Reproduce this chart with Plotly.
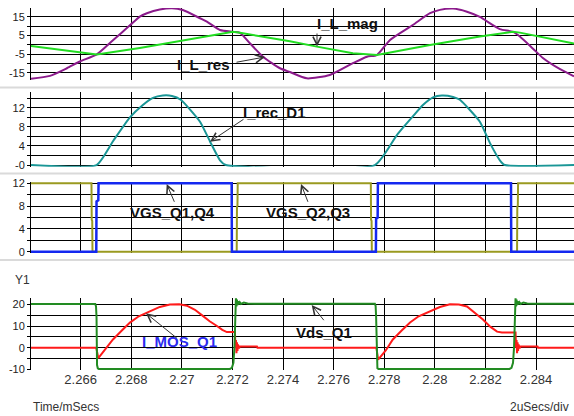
import plotly.graph_objects as go

# ---------------- waveform samples (time in microseconds) ----------------
# Panel 1: resonant and magnetizing inductor currents
t_res = [2264.04, 2264.79, 2265.46, 2265.97, 2266.64, 2267.28, 2267.95, 2268.34, 2268.62, 2269.13,
         2269.61, 2270.04, 2270.72, 2270.99, 2271.51, 2272.02, 2272.30, 2272.69, 2273.21, 2273.88,
         2274.27, 2274.94, 2275.85, 2276.76, 2277.32, 2277.71, 2278.23, 2279.13, 2279.81, 2280.20,
         2280.72, 2281.27, 2281.78, 2282.57, 2283.09, 2283.36, 2283.88, 2284.27, 2284.95, 2285.50]
i_l_res = [-18.2, -16.6, -12.5, -8.9, -5.1, 2.5, 10.5, 15.2, 17.0, 19.0,
           19.7, 18.7, 14.3, 12.5, 8.0, 7.0, 6.5, 0.9, -6.3, -12.5,
           -14.5, -17.9, -16.1, -9.8, -6.3, -5.4, 2.7, 10.7, 17.0, 18.8,
           19.5, 17.8, 15.0, 8.5, 7.0, 4.5, -2.0, -7.0, -13.0, -16.8]

t_mag = [2264.04, 2266.64, 2268.34, 2269.92, 2271.51, 2272.02, 2272.30, 2274.27, 2275.34, 2276.76,
         2277.71, 2279.81, 2281.78, 2283.09, 2283.36, 2285.50]
i_l_mag = [-0.5, -5.1, -1.6, 2.0, 6.0, 7.0, 6.5, 2.0, -0.9, -4.5,
           -5.4, 0.0, 4.5, 7.0, 6.6, 0.8]

# Panel 2: rectifier diode current
t_rec = [2264.04, 2266.63, 2267.28, 2267.95, 2268.46, 2268.86, 2269.25, 2269.61, 2269.96, 2270.72,
         2271.11, 2271.51, 2271.74, 2277.63, 2278.50, 2279.13, 2279.53, 2279.93, 2280.28, 2280.72,
         2280.99, 2281.78, 2282.18, 2282.57, 2282.77, 2285.50]
i_rec_d1 = [0, 0, 5.0, 10.0, 12.6, 14.1, 14.6, 14.5, 13.7, 9.1,
            5.0, 1.0, 0, 0, 6.3, 10.2, 12.6, 14.2, 14.6, 14.3,
            13.7, 9.1, 4.6, 1.0, 0, 0]

# Panel 3: gate drives
t_q14 = [2264.04, 2266.62, 2266.63, 2266.70, 2266.71, 2271.97, 2271.98, 2277.67, 2277.68, 2277.74,
         2277.75, 2283.01, 2283.02, 2285.50]
vgs_q14 = [0, 0, 8.8, 9.0, 12, 12, 0, 0, 5.8, 6.0,
           12, 12, 0, 0]

t_q23 = [2264.04, 2266.43, 2266.44, 2266.46, 2266.47, 2272.17, 2272.18, 2272.20, 2272.21, 2277.47,
         2277.48, 2277.50, 2277.51, 2283.25, 2283.26, 2283.28, 2283.29, 2285.50]
vgs_q23 = [12, 12, 5.6, 5.4, 0, 0, 7.9, 8.1, 12, 12,
           5.6, 5.4, 0, 0, 7.9, 8.1, 12, 12]

# Panel 4: MOSFET current and drain-source voltage
t_mos = [2264.04, 2266.62, 2266.70, 2267.00, 2267.28, 2267.62, 2267.95, 2268.30, 2268.62, 2269.13,
         2269.53, 2269.90, 2270.20, 2270.52, 2270.83, 2271.10, 2271.39, 2271.60, 2271.78, 2272.10,
         2272.12, 2272.14, 2272.16, 2272.18, 2272.20, 2272.22, 2272.26, 2272.30, 2272.97, 2272.99,
         2277.69, 2277.76, 2278.06, 2278.34, 2278.68, 2279.02, 2279.36, 2279.69, 2280.20, 2280.60,
         2280.95, 2281.27, 2281.60, 2281.90, 2282.20, 2282.46, 2282.65, 2283.19, 2283.21, 2283.23,
         2283.25, 2283.27, 2283.29, 2283.31, 2283.35, 2283.39, 2284.06, 2284.08, 2285.50]
i_mos_q1 = [0, 0, -4.8, -0.6, 3.8, 7.8, 11.6, 14.5, 16.3, 18.8,
            19.9, 20.0, 19.4, 17.5, 14.7, 12.2, 10.0, 8.2, 7.2, 7.2,
            0.0, 3.5, -2.6, 2.5, -1.5, 1.5, -0.3, 0.6, 0.5, 0.0,
            0.0, -5.5, -1.3, 3.8, 7.8, 11.6, 14.5, 16.3, 18.8, 20.0,
            19.9, 19.0, 16.0, 13.0, 9.6, 7.4, 7.0, 7.0, 0.0, 3.5,
            -2.6, 2.5, -1.5, 1.5, -0.3, 0.6, 0.5, 0.0, 0.0]

t_vds = [2264.04, 2266.58, 2266.61, 2266.63, 2266.65, 2266.68, 2266.72, 2271.90, 2271.98, 2272.04,
         2272.08, 2272.12, 2272.14, 2272.16, 2272.18, 2272.20, 2272.22, 2272.25, 2272.29, 2272.34,
         2272.45, 2272.60, 2272.89, 2277.63, 2277.66, 2277.68, 2277.70, 2277.73, 2277.77, 2282.95,
         2283.03, 2283.09, 2283.13, 2283.17, 2283.19, 2283.21, 2283.23, 2283.25, 2283.27, 2283.30,
         2283.34, 2283.39, 2283.50, 2283.65, 2283.94, 2285.50]
vds_q1 = [20.2, 20.2, 19.0, 14.0, -8.0, -9.5, -9.8, -9.8, -9.3, -7.0,
          0.0, 18.0, 23.3, 19.0, 22.2, 19.6, 21.5, 20.0, 21.0, 20.2,
          20.8, 20.4, 20.3, 20.3, 19.3, 14.0, -8.0, -9.5, -9.8, -9.8,
          -9.3, -7.0, 0.0, 18.0, 23.0, 19.0, 22.2, 19.6, 21.5, 20.0,
          21.0, 20.2, 20.8, 20.4, 20.3, 20.3]

# Axis ticks
x_tick_vals = [2.266, 2.268, 2.270, 2.272, 2.274, 2.276, 2.278, 2.280, 2.282, 2.284]
x_tick_text = ["2.266", "2.268", "2.27", "2.272", "2.274", "2.276", "2.278", "2.28", "2.282", "2.284"]

y1_vals = [-15, -10, -5, 0, 5, 10, 15]
y1_text = ["-15", "", "-5", "", "5", "", "15"]
y2_vals = [0, 2, 4, 6, 8, 10, 12, 14]
y2_text = ["-0", "", "4", "", "8", "", "12", ""]
y3_vals = [0, 2, 4, 6, 8, 10, 12]
y3_text = ["0", "", "4", "", "8", "", "12"]
y4_vals = [-10, -5, 0, 5, 10, 15, 20]
y4_text = ["-10", "", "0", "", "10", "", "20"]

# ---------------- page geometry helpers ----------------
W, H = 574, 416
LEFT = 31
FONT = "Liberation Sans, Arial, sans-serif"


def px(x):
    return (x - LEFT) / (W - LEFT)


def py(y):
    return 1 - y / H


def ms(us_list):
    return [u / 1000.0 for u in us_list]


fig = go.Figure()

def add(t, v, color, axis, width=2, shape="linear", smoothing=None):
    line = dict(color=color, width=width, shape=shape)
    if smoothing is not None:
        line["smoothing"] = smoothing
    fig.add_trace(go.Scatter(x=ms(t), y=v, mode="lines", line=line,
                             xaxis="x" + axis, yaxis="y" + axis,
                             hoverinfo="skip", showlegend=False))

add(t_res, i_l_res, "#8b1a8b", "", shape="spline", smoothing=0.6)
add(t_mag, i_l_mag, "#22dd22", "")
add(t_rec, i_rec_d1, "#1a9696", "2", shape="spline", smoothing=0.5)
add(t_q23, vgs_q23, "#9a9a20", "3")
add(t_q14, vgs_q14, "#1428f0", "3", width=2.5)
add(t_mos, i_mos_q1, "#ff1a1a", "4")
add(t_vds, vds_q1, "#228b22", "4")

# ---------------- axes ----------------
x_range = [2.26404, 2.2855]
panels = [  # (pixel top, pixel bottom, y range, tick vals, tick text)
    (8, 80, [-18.8, 19.8], y1_vals, y1_text),
    (91.7, 166.7, [-0.35, 15.4], y2_vals, y2_text),
    (181.7, 253.3, [-0.28, 12.28], y3_vals, y3_text),
    (298.3, 370, [-10.3, 22.8], y4_vals, y4_text),
]

layout = dict(
    width=W, height=H,
    margin=dict(l=LEFT, r=0, t=0, b=0, pad=0),
    paper_bgcolor="white", plot_bgcolor="white",
    showlegend=False,
    font=dict(family=FONT, color="#222"),
)

for i, (top, bot, yr, tv, tt) in enumerate(panels):
    n = "" if i == 0 else str(i + 1)
    last = i == len(panels) - 1
    layout["xaxis" + n] = dict(
        domain=[0, 1], range=x_range, anchor="y" + n,
        tickmode="array", tickvals=x_tick_vals, ticktext=x_tick_text,
        showticklabels=last, ticks="",
        tickfont=dict(size=13, color="#333", family=FONT),
        showgrid=True, gridcolor="#000000", gridwidth=1,
        zeroline=False, showline=False, automargin=False, fixedrange=True,
    )
    layout["yaxis" + n] = dict(
        domain=[py(bot), py(top)], range=yr, anchor="x" + n,
        tickmode="array", tickvals=tv, ticktext=tt,
        ticks="outside", ticklen=3, tickcolor="#000", tickwidth=1,
        tickfont=dict(size=11, color="#222", family=FONT),
        showgrid=True, gridcolor="#000000", gridwidth=1,
        zeroline=False, showline=True, linecolor="#000", linewidth=1,
        automargin=False, fixedrange=True,
    )

fig.update_layout(**layout)

# Light separators between the panels
for y in (87.5, 173.5, 260):
    fig.add_shape(type="line", xref="paper", yref="paper",
                  x0=px(0), x1=1, y0=py(y), y1=py(y),
                  line=dict(color="#dadada", width=2), layer="below")

# Trace labels
labels = [
    ("I_L_mag", 347.5, 23.5, "#111"),
    ("I_L_res", 203, 64, "#111"),
    ("I_rec_D1", 274, 112.5, "#111"),
    ("VGS_Q1,Q4", 172, 212.5, "#111"),
    ("VGS_Q2,Q3", 307.5, 212.5, "#111"),
    ("I_MOS_Q1", 179, 341, "#2b2bf0"),
    ("Vds_Q1", 324, 332.5, "#111"),
]
for text, x, y, c in labels:
    fig.add_annotation(text="<b>%s</b>" % text, x=px(x), y=py(y), xref="paper", yref="paper",
                       xanchor="center", yanchor="middle", showarrow=False,
                       font=dict(size=15, color=c, family=FONT))

# Pointer arrows: (head x, head y, tail x, tail y) in page pixels
arrows = [
    (317, 46.5, 317, 32),
    (265, 57, 235, 62.5),
    (210, 141.7, 245, 118.3),
    (166.7, 184, 175, 203.3),
    (301, 184, 308.5, 203.3),
    (146, 313.3, 178.3, 339.3),
    (311.7, 305, 325, 321.7),
]
for hx, hy, tx, ty in arrows:
    fig.add_annotation(text="", x=px(hx), y=py(hy), xref="paper", yref="paper",
                       showarrow=True, ax=tx - hx, ay=ty - hy,
                       arrowhead=5, arrowsize=1.6, arrowwidth=1, arrowcolor="#333")

# Axis captions
fig.add_annotation(text="Y1", x=px(22), y=py(280), xref="paper", yref="paper",
                   xanchor="center", yanchor="middle", showarrow=False,
                   font=dict(size=12, color="#333", family=FONT))
fig.add_annotation(text="Time/mSecs", x=px(31), y=py(406.5), xref="paper", yref="paper",
                   xanchor="left", yanchor="middle", showarrow=False,
                   font=dict(size=12, color="#333", family=FONT))
fig.add_annotation(text="2uSecs/div", x=px(571), y=py(406.5), xref="paper", yref="paper",
                   xanchor="right", yanchor="middle", showarrow=False,
                   font=dict(size=12, color="#333", family=FONT))

fig.write_html("out.html")
